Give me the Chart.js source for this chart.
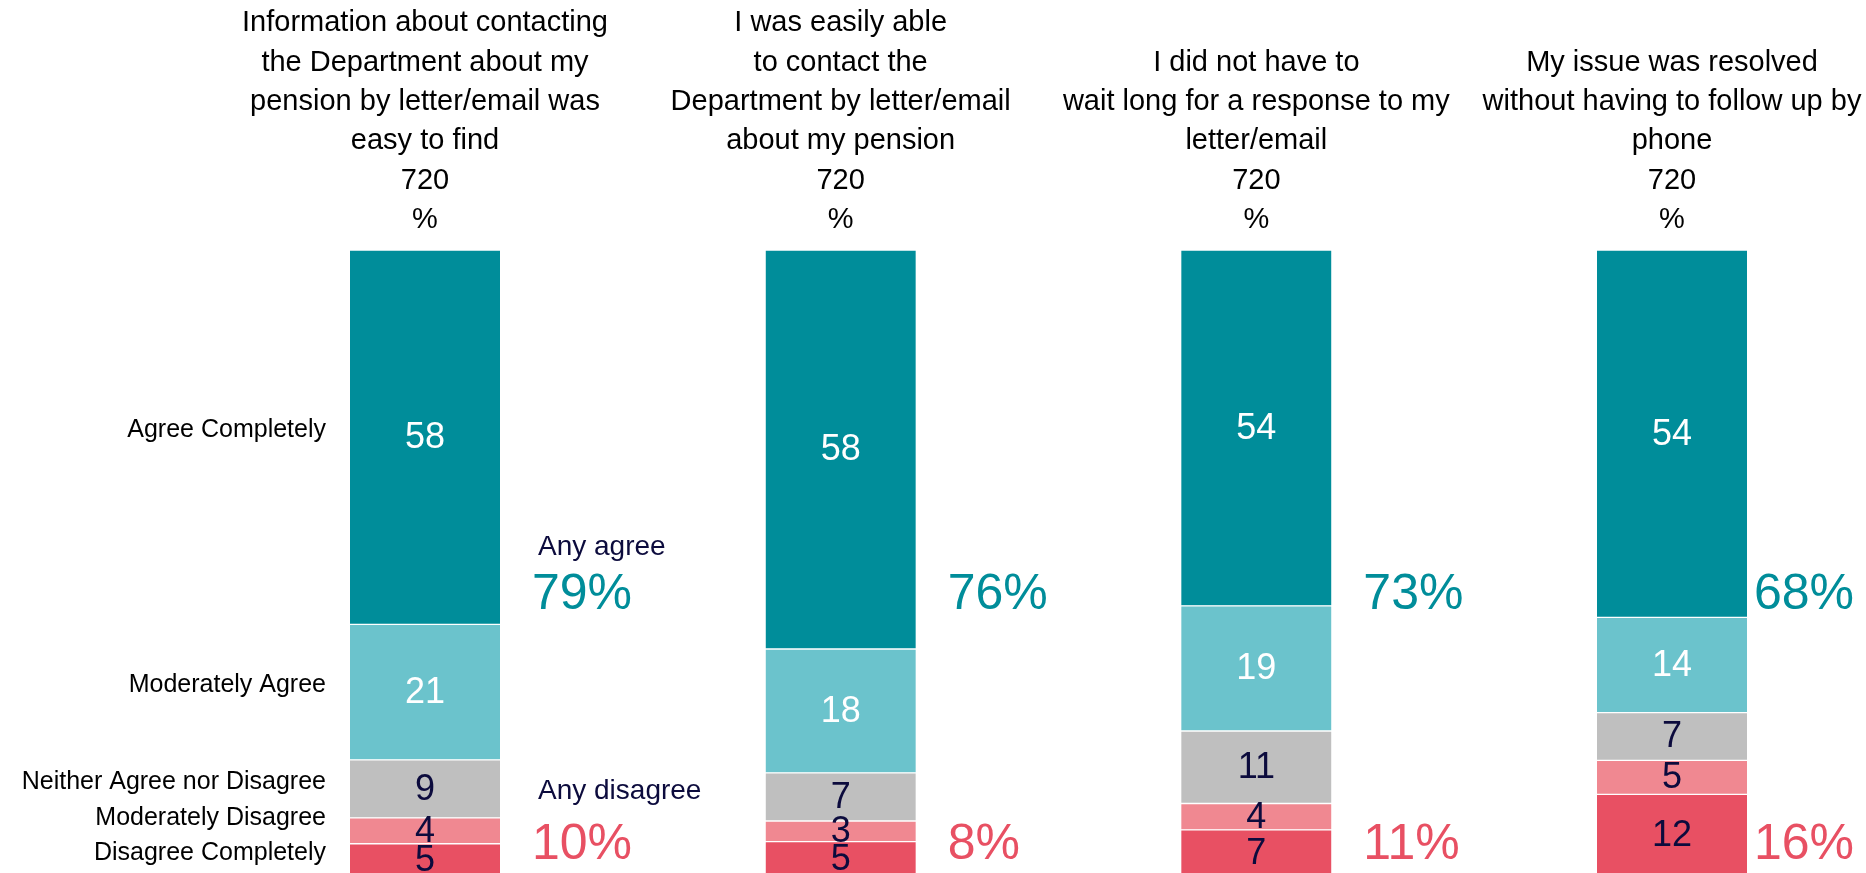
<!DOCTYPE html>
<html>
<head>
<meta charset="utf-8">
<script src="https://cdn.jsdelivr.net/npm/chart.js@4"></script>
<style>
  html, body { margin: 0; padding: 0; background: #fff; overflow: hidden; }
  #wrap { width: 1866px; height: 876px; position: relative; }
</style>
</head>
<body>
<div id="wrap"><canvas id="surveyChart"></canvas></div>
<script>
// question wording, one array of lines per bar
const questions = [
  ['Information about contacting', 'the Department about my', 'pension by letter/email was', 'easy to find'],
  ['I was easily able', 'to contact the', 'Department by letter/email', 'about my pension'],
  ['I did not have to', 'wait long for a response to my', 'letter/email'],
  ['My issue was resolved', 'without having to follow up by', 'phone']
];
const baseSizes = ['720', '720', '720', '720'];
const responses = ['Agree Completely', 'Moderately Agree', 'Neither Agree nor Disagree', 'Moderately Disagree', 'Disagree Completely'];

const agreeCompletely    = [58, 58, 54, 54];
const moderatelyAgree    = [21, 18, 19, 14];
const neitherAgree       = [9, 7, 11, 7];
const moderatelyDisagree = [4, 3, 4, 5];
const disagreeCompletely = [5, 5, 7, 12];

const anyAgree    = [79, 76, 73, 68];
const anyDisagree = [10, 8, 11, 16];

const TEAL = '#008d9a';
const RED = '#e85063';
const NAVY = '#0c0b3d';
const FONT = '"Liberation Sans", Arial, sans-serif';

const series = [agreeCompletely, moderatelyAgree, neitherAgree, moderatelyDisagree, disagreeCompletely];
const fills = [TEAL, '#6bc3cc', '#bfbfbf', '#f08891', RED];
const valueColors = ['#ffffff', '#ffffff', NAVY, NAVY, NAVY];

// each bar is shown as 100% of its answers
const totals = questions.map((q, i) => series.reduce((s, arr) => s + arr[i], 0));

// bottom of the stack first
const datasets = series.map((arr, k) => ({
  label: responses[k],
  raw: arr,
  data: arr.map((v, i) => v / totals[i] * 100),
  backgroundColor: fills[k],
  borderColor: '#ffffff',
  borderWidth: { top: 1, bottom: 1, left: 0, right: 0 },
  borderSkipped: false,
  barThickness: 150,
  valueColor: valueColors[k],
  clip: false
})).reverse();

const labelPlugin = {
  id: 'surveyLabels',
  afterDatasetsDraw(chart) {
    const ctx = chart.ctx;
    const area = chart.chartArea;
    ctx.save();
    ctx.textBaseline = 'middle';

    // numbers inside the segments
    ctx.textAlign = 'center';
    ctx.font = '36px ' + FONT;
    chart.data.datasets.forEach((ds, d) => {
      chart.getDatasetMeta(d).data.forEach((el, i) => {
        ctx.fillStyle = ds.valueColor;
        ctx.fillText(String(ds.raw[i]), el.x, (el.y + el.base) / 2 + 1);
      });
    });

    // response names on the left, next to the first bar
    ctx.textAlign = 'right';
    ctx.font = '25px ' + FONT;
    ctx.fillStyle = '#000000';
    let limit = Infinity;
    chart.data.datasets.forEach((ds, d) => {
      const el = chart.getDatasetMeta(d).data[0];
      let y = (el.y + el.base) / 2 - 7;
      if (y > limit - 35) y = limit - 35;
      limit = y;
      ctx.fillText(ds.label, el.x - el.width / 2 - 24, y);
    });

    // net agree / disagree figures
    const top = chart.getDatasetMeta(chart.data.datasets.length - 1).data;
    const h = area.bottom - area.top;
    top.forEach((el, i) => {
      let x = el.x + el.width / 2 + 32;
      ctx.textAlign = 'left';
      ctx.font = '50px ' + FONT;
      const w = Math.max(ctx.measureText(anyAgree[i] + '%').width, ctx.measureText(anyDisagree[i] + '%').width);
      if (x + w > chart.width - 12) x = chart.width - 12 - w;
      ctx.fillStyle = TEAL;
      ctx.fillText(anyAgree[i] + '%', x, area.top + h * 0.551);
      ctx.fillStyle = RED;
      ctx.fillText(anyDisagree[i] + '%', x, area.top + h * 0.951);
      if (i === 0) {
        ctx.font = '28px ' + FONT;
        ctx.fillStyle = NAVY;
        ctx.fillText('Any agree', x + 6, area.top + h * 0.475);
        ctx.fillText('Any disagree', x + 6, area.top + h * 0.865);
      }
    });
    ctx.restore();
  }
};

new Chart(document.getElementById('surveyChart'), {
  type: 'bar',
  data: {
    labels: questions.map((q, i) => [...q, baseSizes[i], '%']),
    datasets: datasets
  },
  options: {
    responsive: true,
    maintainAspectRatio: false,
    animation: false,
    layout: { padding: { left: 425, right: 194, top: 0, bottom: 0 } },
    plugins: { legend: { display: false }, tooltip: { enabled: false } },
    scales: {
      x: {
        position: 'top',
        stacked: true,
        offset: false,
        border: { display: false },
        grid: { display: false, drawTicks: false },
        ticks: {
          autoSkip: false,
          maxRotation: 0,
          padding: 10,
          color: '#000000',
          font: { family: FONT, size: 29, lineHeight: 1.36 }
        },
        afterFit(scale) {
          // keep the bars where they are even if the outer titles are wide
          scale.height = 250;
          scale.paddingLeft = 0;
          scale.paddingRight = 0;
        }
      },
      y: {
        display: false,
        stacked: true,
        min: 0,
        max: 100
      }
    }
  },
  plugins: [labelPlugin]
});
</script>
</body>
</html>
